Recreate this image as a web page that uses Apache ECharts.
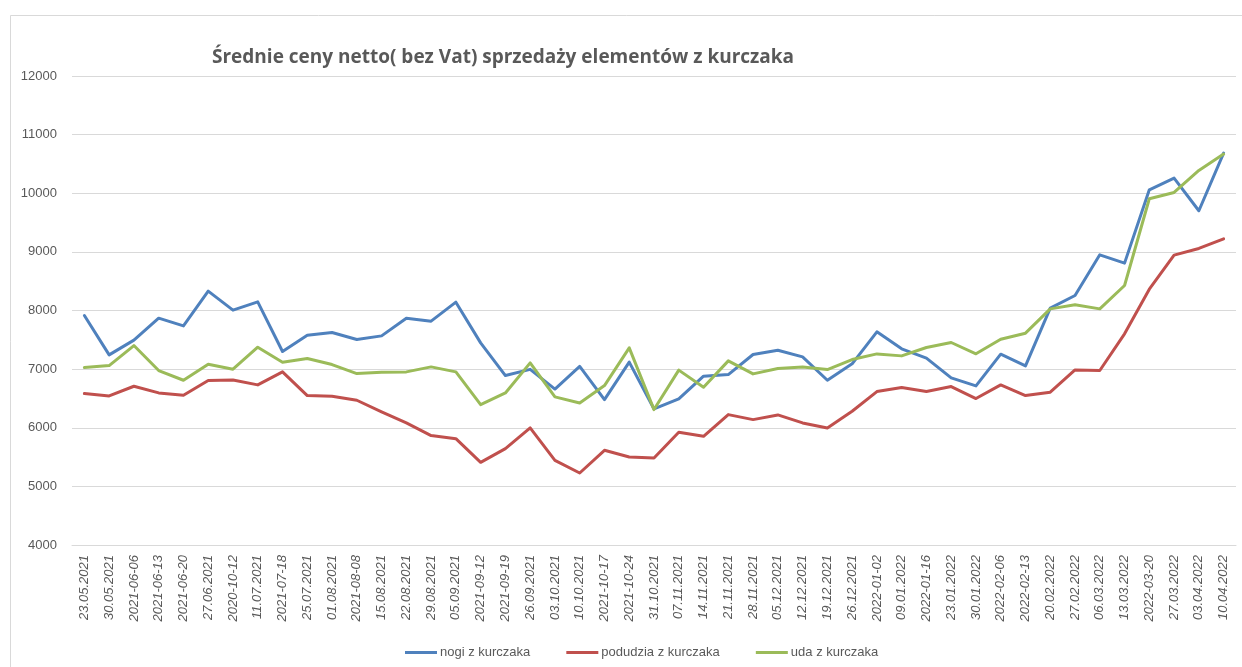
<!DOCTYPE html>
<html>
<head>
<meta charset="utf-8">
<script src="https://cdn.jsdelivr.net/npm/echarts@6/dist/echarts.min.js"></script>
<style>
html,body{margin:0;padding:0;background:#fff;}
#c{width:1242px;height:667px;}
</style>
</head>
<body>
<div id="c"></div>
<script>
const categories = ['23.05.2021','30.05.2021','2021-06-06','2021-06-13','2021-06-20','27.06.2021','2020-10-12','11.07.2021','2021-07-18','25.07.2021','01.08.2021','2021-08-08','15.08.2021','22.08.2021','29.08.2021','05.09.2021','2021-09-12','2021-09-19','26.09.2021','03.10.2021','10.10.2021','2021-10-17','2021-10-24','31.10.2021','07.11.2021','14.11.2021','21.11.2021','28.11.2021','05.12.2021','12.12.2021','19.12.2021','26.12.2021','2022-01-02','09.01.2022','2022-01-16','23.01.2022','30.01.2022','2022-02-06','2022-02-13','20.02.2022','27.02.2022','06.03.2022','13.03.2022','2022-03-20','27.03.2022','03.04.2022','10.04.2022'];

const nogi = [7915,7243,7494,7869,7738,8330,8006,8148,7300,7579,7624,7505,7567,7869,7818,8142,7448,6890,6996,6660,7046,6480,7120,6321,6491,6879,6907,7249,7323,7209,6810,7090,7636,7346,7187,6851,6714,7255,7056,8040,8256,8950,8808,10059,10258,9701,10685];

const podudzia = [6583,6543,6708,6594,6554,6805,6816,6731,6953,6549,6537,6469,6270,6082,5866,5814,5410,5644,5997,5444,5228,5615,5501,5484,5923,5854,6224,6139,6219,6082,5997,6281,6617,6686,6618,6703,6498,6731,6549,6606,6987,6976,7602,8364,8944,9058,9223];

const uda = [7027,7061,7402,6976,6810,7084,6998,7374,7118,7180,7078,6924,6947,6953,7038,6953,6395,6594,7106,6526,6423,6719,7363,6310,6983,6691,7141,6919,7010,7038,6993,7163,7260,7226,7369,7454,7261,7511,7613,8028,8097,8028,8427,9906,10014,10389,10668];

const seriesNames = ['nogi z kurczaka','podudzia z kurczaka','uda z kurczaka'];
const colors = ['#4F81BD','#C0504D','#9BBB59'];
const yMin = 4000, yMax = 12000, yStep = 1000;
const titleText = 'Średnie ceny netto( bez Vat) sprzedaży elementów z kurczaka';

const chart = echarts.init(document.getElementById('c'));
const font = '"Liberation Sans", Arial, sans-serif';
const mk = (name, data, color) => ({
  name, type: 'line', data, showSymbol: false, symbol: 'none', smooth: false,
  lineStyle: {color, width: 3, cap: 'round', join: 'round'}, itemStyle: {color},
  animation: false
});
chart.setOption({
  animation: false,
  backgroundColor: '#fff',
  textStyle: {fontFamily: font},
  graphic: [{
    type: 'rect', left: 8, top: 13, silent: true, z: -10,
    shape: {x: 0.5, y: 0.5, width: 1300, height: 700},
    style: {fill: 'none', stroke: '#d9d9d9', lineWidth: 1}
  }],
  title: {
    text: titleText, left: 207, top: 43,
    textStyle: {fontFamily: '"Open Sans", sans-serif', fontSize: 19, fontWeight: 'bold', color: '#595959'}
  },
  legend: {
    data: seriesNames, left: 400, top: 641, icon: 'rect', itemWidth: 32, itemHeight: 3, itemGap: 36,
    textStyle: {fontFamily: font, fontSize: 13, color: '#595959', padding: [0,0,0,-2]}
  },
  grid: {left: 72, right: 6, top: 76, bottom: 122, containLabel: false},
  xAxis: {
    type: 'category', data: categories, boundaryGap: true,
    axisLine: {lineStyle: {color: '#d9d9d9', width: 1}},
    axisTick: {show: false},
    axisLabel: {interval: 0, rotate: 90, margin: 10, fontSize: 13, fontStyle: 'italic', color: '#595959', fontFamily: font}
  },
  yAxis: {
    type: 'value', min: yMin, max: yMax, interval: yStep,
    axisLine: {show: false}, axisTick: {show: false},
    splitLine: {lineStyle: {color: '#d9d9d9', width: 1}},
    axisLabel: {margin: 15, fontSize: 13, color: '#595959', fontFamily: font, formatter: v => String(v)}
  },
  series: [mk(seriesNames[0], nogi, colors[0]), mk(seriesNames[1], podudzia, colors[1]), mk(seriesNames[2], uda, colors[2])]
});
</script>
</body>
</html>
